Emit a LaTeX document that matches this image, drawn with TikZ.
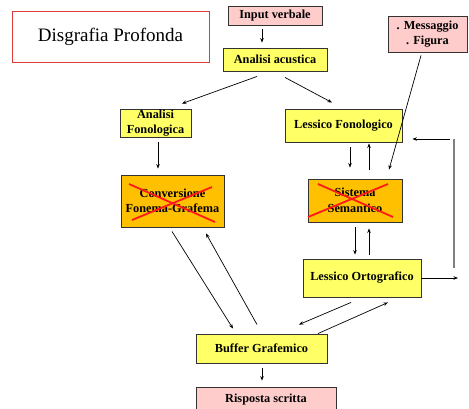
\documentclass[tikz,border=0pt]{standalone}
\usepackage{fontspec}
\setmainfont{Liberation Serif}
\usetikzlibrary{arrows.meta,calc}
\definecolor{boxyellow}{HTML}{FFFF66}
\definecolor{boxorange}{HTML}{FFC000}
\definecolor{boxpink}{HTML}{FFCCCC}
\definecolor{boxedge}{HTML}{333333}
\definecolor{titlered}{HTML}{E03A3A}
\definecolor{crossred}{HTML}{FF1A1A}
\definecolor{loopgray}{HTML}{808080}
\tikzset{
  base/.style={draw=boxedge, line width=0.9pt, inner sep=0pt, align=center,
    font=\fontsize{12.3}{15.5}\selectfont\bfseries},
  ybox/.style={base, fill=boxyellow},
  obox/.style={base, fill=boxorange},
  pbox/.style={base, fill=boxpink},
  arr/.style={line width=0.7pt, -{Stealth[length=4.5pt,width=3.5pt]}},
  cross/.style={crossred, line width=1.8pt},
}
\begin{document}
\begin{tikzpicture}[x=1pt,y=-1pt]
\clip (0,0) rectangle (469,408);
\fill[white] (0,0) rectangle (469,408);
% nodes
\node[draw=titlered, line width=0.9pt, fill=white, minimum width=197pt, minimum height=51pt,
      font=\fontsize{19}{22}\selectfont] (title) at (110.5,36.5) {Disgrafia Profonda};
\node[pbox, minimum width=94pt, minimum height=19pt] (in) at (275,15.5) {Input verbale};
\node[ybox, minimum width=104pt, minimum height=23pt] (ac) at (275,59.5) {Analisi acustica};
\node[pbox, minimum width=79pt, minimum height=36pt] (msg) at (427.5,34) {. Messaggio\\. Figura};
\node[ybox, minimum width=71pt, minimum height=28pt] (af) at (155.5,123) {Analisi\\Fonologica};
\node[ybox, minimum width=117pt, minimum height=33pt] (lf) at (343.5,125.5) {Lessico Fonologico};
\node[obox, minimum width=103pt, minimum height=52pt] (cfg) at (172.5,201) {Conversione\\Fonema-Grafema};
\node[obox, minimum width=94pt, minimum height=43pt] (ss) at (355,200.5) {Sistema\\Semantico};
\node[ybox, minimum width=118pt, minimum height=38pt] (lo) at (362,278) {Lessico Ortografico};
\node[ybox, minimum width=131pt, minimum height=29pt] (bg) at (261.5,348.5) {Buffer Grafemico};
\node[pbox, minimum width=140pt, minimum height=25pt] (rs) at (266,399.5) {Risposta scritta};
% red crosses
\draw[cross] ($(cfg.center)+(-43.5,-17)$) -- ($(cfg.center)+(42.5,21)$);
\draw[cross] ($(cfg.center)+(-40.5,19)$) -- ($(cfg.center)+(39.5,-14)$);
\draw[cross] ($(ss.center)+(-37,-16.5)$) -- ($(ss.center)+(38,16.5)$);
\draw[cross] ($(ss.center)+(-47,16.5)$) -- ($(ss.center)+(33,-16.5)$);
% connectors
\draw[arr] ($(in.south)+(-13,4)$) -- ($(ac.north)+(-13,-5)$);
\draw[arr] ($(ac.south)+(-18,5)$) -- ($(af.north)+(26.5,-5)$);
\draw[arr] ($(ac.south)+(10,6)$) -- ($(lf.north)+(-11.5,-6)$);
\draw[arr] ($(af.south)+(2.5,5)$) -- ($(cfg.north)+(-14.5,-6)$);
\draw[arr] ($(lf.south)+(6.5,5)$) -- ($(ss.north)+(-5,-11)$);
\draw[arr] ($(ss.north)+(14,-9)$) -- ($(lf.south)+(25.5,1)$);
\draw[arr] ($(msg.south)+(-6.5,3)$) -- ($(ss.north)+(34,-9)$);
\draw[arr] ($(ss.south)+(0,5)$) -- ($(lo.north)+(-7,-4)$);
\draw[arr] ($(lo.north)+(7,-4)$) -- ($(ss.south)+(14,6)$);
\coordinate (r1) at (458,278);
\coordinate (v1) at (454,268);
\coordinate (v2) at (454,139);
\coordinate (h1) at (450,139);
\draw[arr] (lo.east) -- (r1);
\draw[loopgray, line width=1.1pt] (v1) -- (v2);
\draw[arr] (h1) -- ($(lf.east)+(10,13.5)$);
\draw[arr] ($(cfg.south)+(-0.5,4)$) -- ($(bg.north)+(-28.5,-5)$);
\draw[arr] ($(bg.north)+(-4.5,-9)$) -- ($(cfg.south)+(33.5,6)$);
\draw[arr] ($(lo.south)+(-11,5)$) -- ($(bg.north)+(37.5,-9)$);
\draw[arr] ($(bg.north)+(56.5,0)$) -- ($(lo.south)+(26,5)$);
\draw[arr] ($(bg.south)+(0.5,5)$) -- ($(rs.north)+(-4,-6)$);
\end{tikzpicture}
\end{document}
